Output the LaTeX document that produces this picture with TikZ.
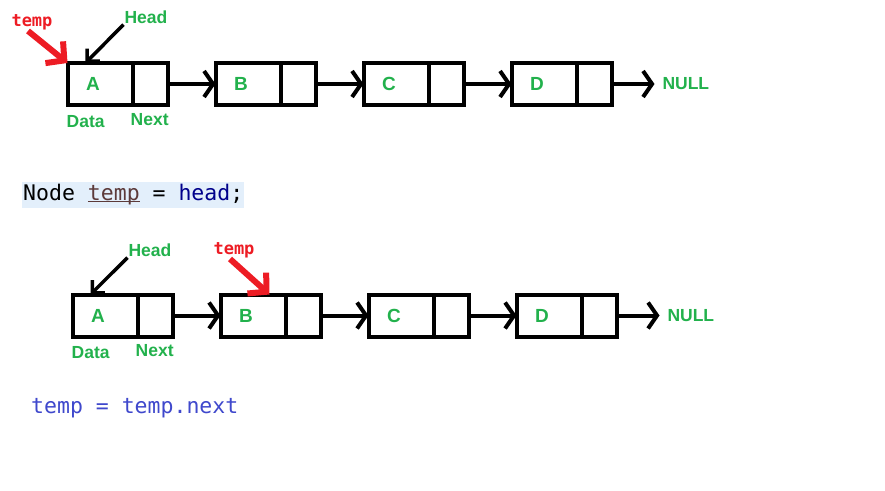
\documentclass[tikz,border=0pt]{standalone}
\usepackage{fontspec}
\setmainfont{Liberation Sans}
\newfontfamily\codefont{DejaVu Sans Mono}
\usepackage{xcolor}
\usepackage{tikz}
\usetikzlibrary{positioning, arrows.meta}

\definecolor{paintgreen}{HTML}{22B14C}
\definecolor{paintred}{HTML}{ED1C24}
\definecolor{codeblue}{HTML}{3F48CC}
\definecolor{keyblue}{HTML}{00008B}
\definecolor{varbrown}{HTML}{5C3A3A}
\definecolor{codebg}{HTML}{E3EFFB}

% underline that sits on the baseline, as in the editor
\newcommand{\codeuline}[1]{\setbox0=\hbox{#1}\rlap{\rule[-1.5pt]{\wd0}{1.5pt}}\box0}

\begin{document}
\begin{tikzpicture}[
        % Define styles for consistency
        x=1pt, y=-1pt,
        datacell/.style={draw, line width=4pt, minimum width=65pt, minimum height=42pt, inner sep=0pt, outer sep=0pt},
        nextcell/.style={datacell, minimum width=35pt},
        value/.style={text=paintgreen, font=\bfseries\fontsize{19}{22}\selectfont, xshift=-7pt},
        tag/.style={text=paintgreen, font=\bfseries\fontsize{17.5}{20}\selectfont, inner sep=1pt},
        tempname/.style={text=paintred, font=\codefont\bfseries\fontsize{17}{20}\selectfont, inner sep=1pt},
        link/.style={line width=4pt, -{Straight Barb[length=9pt, width=26pt]}},
        pointer/.style={line width=3.5pt, -{Straight Barb[length=9pt, width=18pt]}},
        redpointer/.style={paintred, line width=6pt, -{Straight Barb[length=13pt, width=28pt]}},
        codeline/.style={font=\codefont\fontsize{21.5}{26}\selectfont, inner sep=0pt, minimum height=26pt}
    ]
        \useasboundingbox (0,0) rectangle (885,490);

        % --- Coordinates ---
        % First box of each list
        \coordinate (first1) at (100,84);
        \coordinate (first2) at (105,315.5);

        % Code lines
        \coordinate (codeA) at (22,195);
        \coordinate (codeB) at (31,408);

        % --- Top list: temp = head ---
        \node[datacell, label={[value]center:A}] (a1) at (first1) {};
        \node[nextcell, right=0pt of a1] (a1n) {};
        \node[datacell, label={[value]center:B}, right=48pt of a1n] (b1) {};
        \node[nextcell, right=0pt of b1] (b1n) {};
        \node[datacell, label={[value]center:C}, right=48pt of b1n] (c1) {};
        \node[nextcell, right=0pt of c1] (c1n) {};
        \node[datacell, label={[value]center:D}, right=48pt of c1n] (d1) {};
        \node[nextcell, right=0pt of d1] (d1n) {};
        \node[tag, outer sep=7pt, right=43pt of d1n] (null1) {NULL};

        % Labels
        \node[tag, below right=9pt and -2pt of a1.south west] (data1) {Data};
        \node[tag, below right=7pt and -3pt of a1n.south west] (next1) {Next};
        \node[tag] (head1) at (146,17) {Head};
        \node[tempname] (temp1) at (32,22) {temp};

        % Links
        \draw[link] (a1n.east) -- (b1.west);
        \draw[link] (b1n.east) -- (c1.west);
        \draw[link] (c1n.east) -- (d1.west);
        \draw[link] (d1n.east) -- (null1.west);

        % Pointers
        \draw[pointer] (head1.south west) -- ([xshift=18pt]a1.north west);
        \draw[redpointer] ([xshift=-4pt]temp1.south) -- (a1.north west);

        % --- Code ---
        \node[codeline, fill=codebg, inner xsep=1pt, anchor=west] (code1) at (codeA)
            {Node {\color{varbrown}\codeuline{temp}} = {\color{keyblue}head};};

        % --- Bottom list: temp = temp.next ---
        \node[datacell, label={[value]center:A}] (a2) at (first2) {};
        \node[nextcell, right=0pt of a2] (a2n) {};
        \node[datacell, label={[value]center:B}, right=48pt of a2n] (b2) {};
        \node[nextcell, right=0pt of b2] (b2n) {};
        \node[datacell, label={[value]center:C}, right=48pt of b2n] (c2) {};
        \node[nextcell, right=0pt of c2] (c2n) {};
        \node[datacell, label={[value]center:D}, right=48pt of c2n] (d2) {};
        \node[nextcell, right=0pt of d2] (d2n) {};
        \node[tag, outer sep=7pt, right=43pt of d2n] (null2) {NULL};

        % Labels
        \node[tag, below right=9pt and -2pt of a2.south west] (data2) {Data};
        \node[tag, below right=7pt and -3pt of a2n.south west] (next2) {Next};
        \node[tag] (head2) at (150,250) {Head};
        \node[tempname] (temp2) at (234,250) {temp};

        % Links
        \draw[link] (a2n.east) -- (b2.west);
        \draw[link] (b2n.east) -- (c2.west);
        \draw[link] (c2n.east) -- (d2.west);
        \draw[link] (d2n.east) -- (null2.west);

        % Pointers
        \draw[pointer] (head2.south west) -- ([xshift=18pt]a2.north west);
        \draw[redpointer] ([xshift=-4pt]temp2.south) -- ([xshift=49pt]b2.north west);

        % --- Code ---
        \node[codeline, text=codeblue, anchor=west] (code2) at (codeB) {temp = temp.next};

    \end{tikzpicture}
\end{document}
